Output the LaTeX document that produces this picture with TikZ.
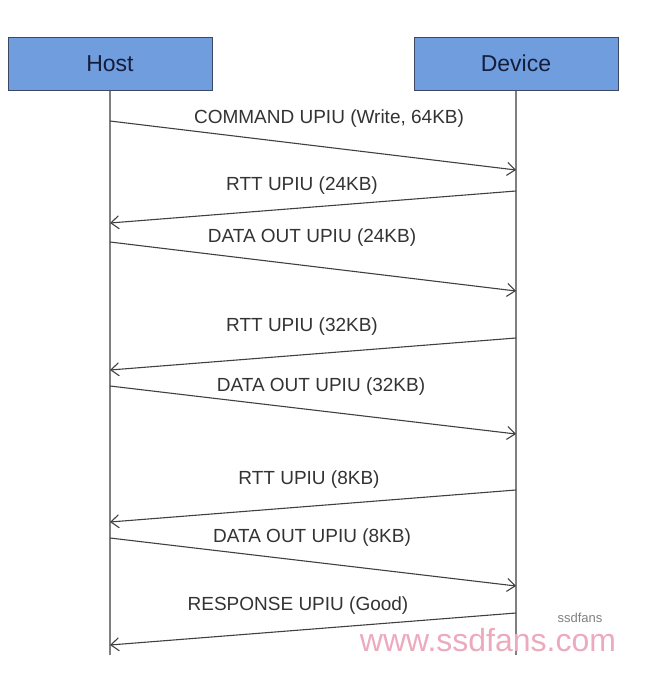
\documentclass[tikz,border=0pt]{standalone}
\usepackage{fontspec}
\setmainfont{Liberation Sans}
\usetikzlibrary{arrows.meta,positioning}
\definecolor{boxblue}{RGB}{112,157,222}
\definecolor{boxedge}{RGB}{60,72,100}
\definecolor{boxtext}{RGB}{20,30,60}
\definecolor{wmpink}{RGB}{236,170,190}

\begin{document}
\begin{tikzpicture}[x=1pt,y=-1pt,->,>={Straight Barb[length=8pt,width=13pt]},
    actor/.style={draw=boxedge, fill=boxblue, line width=1pt, minimum width=204pt, minimum height=53pt, font=\fontsize{23}{26}\selectfont, text=boxtext},
    msg/.style={font=\fontsize{19}{21}\selectfont, text=black!80},
    life/.style={-, draw=gray, line width=1.4pt}]
    \useasboundingbox (0,0) rectangle (653,673);

    \node [actor](host) at (110,63.5){Host};
    \node [actor](dev) at (516,63.5){Device};
    \coordinate (hostend) at (110,655);
    \coordinate (devend) at (516,655);
    \draw [life] (host) -- (hostend);
    \draw [life] (dev) -- (devend);

    % message ends on the lifelines
    \coordinate (h1) at (110,121);  \coordinate (d1) at (516,170);
    \coordinate (d2) at (516,191);  \coordinate (h2) at (110,223);
    \coordinate (h3) at (110,242);  \coordinate (d3) at (516,291);
    \coordinate (d4) at (516,338);  \coordinate (h4) at (110,370);
    \coordinate (h5) at (110,386);  \coordinate (d5) at (516,434);
    \coordinate (d6) at (516,490);  \coordinate (h6) at (110,522);
    \coordinate (h7) at (110,538);  \coordinate (d7) at (516,586);
    \coordinate (d8) at (516,613);  \coordinate (h8) at (110,645);

    \path[every edge/.append style={draw=black!75, line width=1.1pt}]
        (h1) edge (d1)
        (d2) edge (h2)
        (h3) edge (d3)
        (d4) edge (h4)
        (h5) edge (d5)
        (d6) edge (h6)
        (h7) edge (d7)
        (d8) edge (h8)
    ;

    \node [msg](m1) at (329,119){COMMAND UPIU (Write, 64KB)};
    \node [msg](m2) at (302,186){RTT UPIU (24KB)};
    \node [msg](m3) at (312,238){DATA OUT UPIU (24KB)};
    \node [msg](m4) at (302,327){RTT UPIU (32KB)};
    \node [msg](m5) at (321,387){DATA OUT UPIU (32KB)};
    \node [msg](m6) at (309,480){RTT UPIU (8KB)};
    \node [msg](m7) at (312,538){DATA OUT UPIU (8KB)};
    \node [msg](m8) at (298,606){RESPONSE UPIU (Good)};

    % watermark
    \node [font=\fontsize{32}{34}\selectfont, text=wmpink](wm) at (488,640){www.ssdfans.com};
    \node [font=\fontsize{13}{14}\selectfont, text=gray](wmlogo) at (580,618){ssdfans};
\end{tikzpicture}
\end{document}
